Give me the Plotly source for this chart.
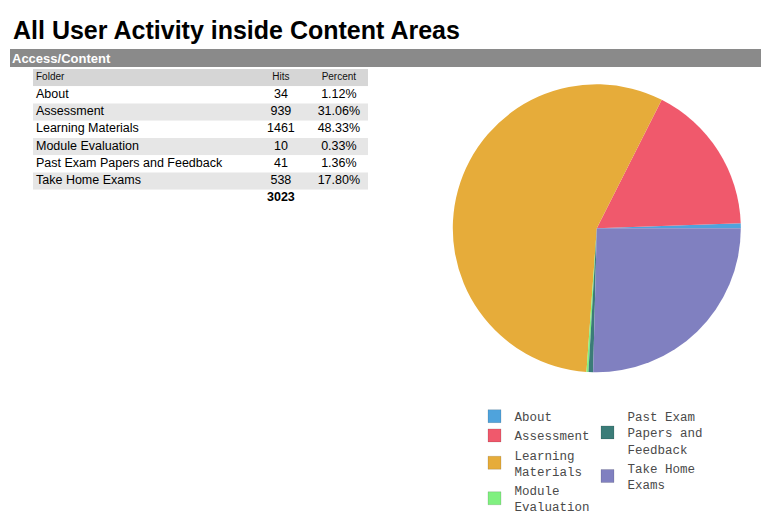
import plotly.graph_objects as go

# table data
folders = ["About", "Assessment", "Learning Materials", "Module Evaluation",
           "Past Exam Papers and Feedback", "Take Home Exams"]
hits = [34, 939, 1461, 10, 41, 538]
header = ["Folder", "Hits", "Percent"]

# pie shares (% of circle)
pie_share = [0.56, 17.0, 56.3, 0.22, 0.52, 25.4]
colors = ["#4fa3dc", "#f0596c", "#e6ac3a", "#80f080", "#3b7c78", "#8080c0"]

legend_names = ["About", "Assessment", "Learning<br>Materials", "Module<br>Evaluation",
                "Past Exam<br>Papers and<br>Feedback", "Take Home<br>Exams"]

# page has an 8px body margin, so the figure is a bit smaller than the window
OFF = 8
W, H = 770 - OFF, 522 - OFF


def px(x):
    return (x - OFF) / W


def py(y):
    return 1 - (y - OFF) / H


total = sum(hits)
pct = ["%.2f%%" % (h * 100.0 / total) for h in hits]

n = len(folders)
rows = list(range(n + 2))          # header, data rows, total row
body = list(range(1, n + 1))
fills = ["#d6d6d6"] + ["white" if i % 2 == 0 else "#e6e6e6" for i in range(n)] + ["white"]

# column anchors inside the table (0..1 of table width)
col_x = [0.009, 0.74, 0.913]
tfont = dict(family="Liberation Sans, Arial", size=12.5, color="#000")

fig = go.Figure()

# table row backgrounds
fig.add_trace(go.Bar(
    y=rows, x=[1] * len(rows), orientation="h", width=1,
    marker=dict(color=fills, line=dict(width=0)),
    xaxis="x2", yaxis="y2", hoverinfo="skip", showlegend=False,
))

fig.add_trace(go.Scatter(
    x=col_x, y=[0] * 3, text=header, mode="text",
    textposition=["middle right", "middle center", "middle center"],
    textfont=dict(family="Liberation Sans, Arial", size=10, color="#111"),
    xaxis="x2", yaxis="y2", hoverinfo="skip", showlegend=False,
))
fig.add_trace(go.Scatter(
    x=[col_x[0]] * n, y=body, text=folders, mode="text",
    textposition="middle right", textfont=tfont,
    xaxis="x2", yaxis="y2", hoverinfo="skip", showlegend=False,
))
fig.add_trace(go.Scatter(
    x=[col_x[1]] * (n + 1), y=body + [n + 1],
    text=[str(h) for h in hits] + ["<b>%d</b>" % total], mode="text",
    textposition="middle center", textfont=tfont,
    xaxis="x2", yaxis="y2", hoverinfo="skip", showlegend=False,
))
fig.add_trace(go.Scatter(
    x=[col_x[2]] * n, y=body, text=pct, mode="text",
    textposition="middle center", textfont=tfont,
    xaxis="x2", yaxis="y2", hoverinfo="skip", showlegend=False,
))

fig.add_trace(go.Pie(
    labels=folders,
    values=pie_share,
    sort=False,
    direction="counterclockwise",
    rotation=88,
    marker=dict(colors=colors, line=dict(width=0)),
    textinfo="none",
    hoverinfo="label+percent",
    showlegend=False,
    domain=dict(x=[px(452.8), px(740.8)], y=[py(372.3), py(84.3)]),
))

# legend entries, split in two columns
for i, nm in enumerate(legend_names):
    fig.add_trace(go.Scatter(
        x=[None], y=[None],
        mode="markers",
        name=nm,
        marker=dict(symbol="square", size=13, color=colors[i],
                    line=dict(width=1, color="rgba(0,0,0,0.12)")),
        legend="legend" if i < 4 else "legend2",
    ))

lfont = dict(family="Liberation Mono, monospace", size=12.5, color="#4a4a4a")

fig.update_layout(
    width=W, height=H,
    margin=dict(l=0, r=0, t=0, b=0),
    paper_bgcolor="white",
    plot_bgcolor="rgba(0,0,0,0)",
    xaxis=dict(visible=False),
    yaxis=dict(visible=False),
    xaxis2=dict(visible=False, domain=[px(33), px(368)], range=[0, 1],
                anchor="y2", fixedrange=True),
    yaxis2=dict(visible=False, domain=[py(207), py(69)], range=[n + 1.5, -0.5],
                anchor="x2", fixedrange=True),
    legend=dict(x=px(474.5), y=py(401.5), xanchor="left", yanchor="top",
                font=lfont, bgcolor="rgba(0,0,0,0)", traceorder="normal"),
    legend2=dict(x=px(587.5), y=py(401.5), xanchor="left", yanchor="top",
                 font=lfont, bgcolor="rgba(0,0,0,0)", traceorder="normal"),
    shapes=[dict(type="rect", xref="paper", yref="paper",
                 x0=px(10), x1=px(761), y0=py(67), y1=py(49),
                 fillcolor="#8a8a8a", line=dict(width=0), layer="below")],
    annotations=[
        dict(text="<b>All User Activity inside Content Areas</b>",
             x=px(11), y=py(30), xref="paper", yref="paper",
             xanchor="left", yanchor="middle", showarrow=False,
             font=dict(family="Liberation Sans, Arial", size=25, color="#000")),
        dict(text="<b>Access/Content</b>",
             x=px(10), y=py(58.5), xref="paper", yref="paper",
             xanchor="left", yanchor="middle", showarrow=False,
             font=dict(family="Liberation Sans, Arial", size=13, color="white")),
    ],
)

fig.write_html("out.html")
